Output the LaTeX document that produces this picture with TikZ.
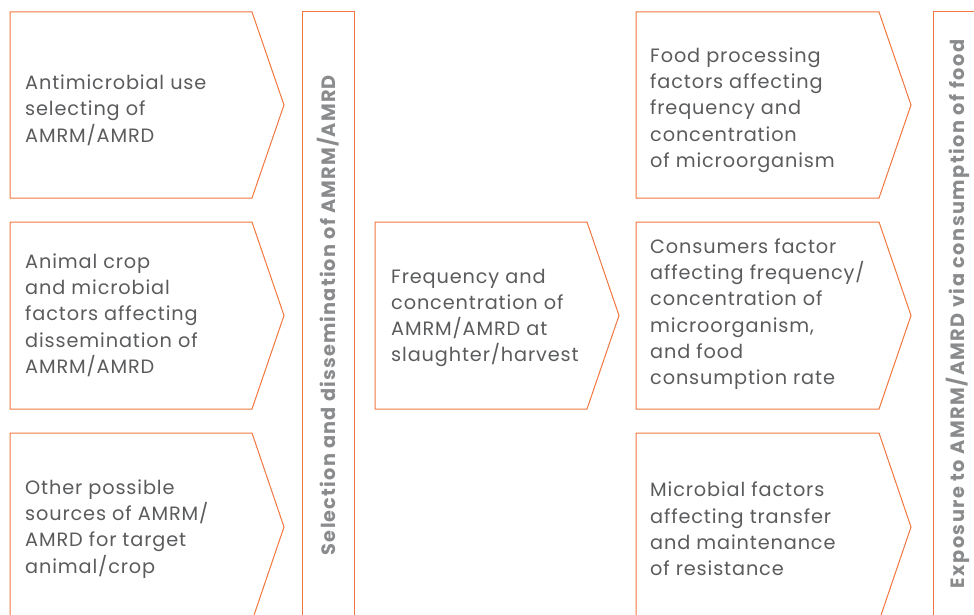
\documentclass[tikz,border=0pt]{standalone}
\usepackage{fontspec}
\setmainfont{Poppins}
\newfontfamily\lblfont{Poppins}[LetterSpace=4.5]
\newfontfamily\barfont{Poppins}[LetterSpace=6]
\newfontfamily\barfontb{Poppins}[LetterSpace=7.5]
\definecolor{orng}{HTML}{F2763F}
\definecolor{txt}{HTML}{5A5B5D}
\definecolor{bartxt}{HTML}{8A8B8D}
\begin{document}
\begin{tikzpicture}[x=1pt,y=-1pt,
  chev/.style={draw=orng,line width=1pt,line join=miter},
  bar/.style={draw=orng,line width=1pt},
  lbl/.style={anchor=west,align=left,text=txt,inner sep=0pt,font=\lblfont\fontsize{19.3}{26.3}\selectfont},
  vlbl/.style={rotate=90,text=bartxt,inner sep=0pt,font=\barfont\fontsize{19.3}{22}\selectfont\bfseries},
  vlblb/.style={vlbl,font=\barfontb\fontsize{19.3}{22}\selectfont\bfseries}]
\useasboundingbox (0,0) rectangle (974,615);
\clip (0,0) rectangle (974,615);
% left column chevrons
\draw[chev] (10,12) -- (252,12) -- (284,105) -- (252,198) -- (10,198) -- cycle;
\draw[chev] (10,222) -- (252,222) -- (284,315.5) -- (252,409) -- (10,409) -- cycle;
\draw[chev] (10,433) -- (252,433) -- (284,527) -- (252,621) -- (10,621) -- cycle;
% left bar
\draw[bar] (302,640) -- (302,12) -- (354,12) -- (354,640);
% middle chevron
\draw[chev] (375,222) -- (587,222) -- (619,315.5) -- (587,409) -- (375,409) -- cycle;
% right column chevrons
\draw[chev] (636,12) -- (879,12) -- (911,105) -- (879,198) -- (636,198) -- cycle;
\draw[chev] (636,222) -- (879,222) -- (911,315.5) -- (879,409) -- (636,409) -- cycle;
\draw[chev] (636,433) -- (879,433) -- (911,527) -- (879,621) -- (636,621) -- cycle;
% right bar
\draw[bar] (933,640) -- (933,12) -- (990,12) -- (990,640);
% texts
\node[lbl] (t1) at (25,110) {Antimicrobial use\\selecting of\\AMRM/AMRD};
\node[lbl] (t2) at (25,315) {Animal crop\\and microbial\\factors affecting\\dissemination of\\AMRM/AMRD};
\node[lbl] (t3) at (25,529) {Other possible\\sources of AMRM/\\AMRD for target\\animal/crop};
\node[lbl] (t4) at (391,318) {Frequency and\\concentration of\\AMRM/AMRD at\\slaughter/harvest};
\node[lbl] (t5) at (650,110) {Food processing\\factors affecting\\frequency and\\concentration\\of microorganism};
\node[lbl] (t6) at (650,314) {Consumers factor\\affecting frequency/\\concentration of\\microorganism,\\and food\\consumption rate};
\node[lbl] (t7) at (650,529) {Microbial factors\\affecting transfer\\and maintenance\\of resistance};
\node[vlbl] (v1) at (328,315) {Selection and dissemination of AMRM/AMRD};
\node[vlblb] (v2) at (958,314) {Exposure to AMRM/AMRD via consumption of food};
\end{tikzpicture}
\end{document}
